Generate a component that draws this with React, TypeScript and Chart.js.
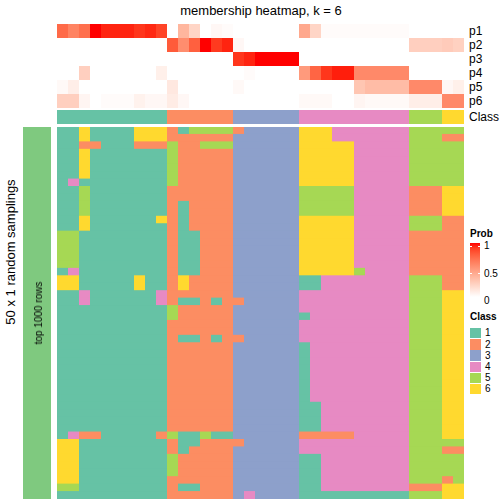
import React, { useEffect, useRef } from "react";
import { Chart, registerables } from "chart.js";

Chart.register(...registerables);

// ---------- data ----------
const CLASS_LABELS = ["1", "2", "3", "4", "5", "6"];
const CLASS_COLORS = ["#66C2A5", "#FC8D62", "#8DA0CB", "#E78AC3", "#A6D854", "#FFD92F"];
const PROB_LABELS = ["p1", "p2", "p3", "p4", "p5", "p6"];
const PROB_TICKS = ["1", "0.5", "0"];
const TITLE = "membership heatmap, k = 6";
const ROW_TITLE = "50 x 1 random samplings";
const SPLIT_LABEL = "top 1000 rows";

const p1 = [0.74, 0.63, 0.72, 1.0, 0.96, 0.96, 0.96, 0.92, 0.95, 0.88, 0, 0.38, 0.22, 0, 0.04, 0.02, 0, 0, 0, 0, 0, 0, 0.45, 0.22, 0.02, 0.02, 0.02, 0.02, 0.02, 0.02, 0.02, 0.02, 0, 0, 0, 0, 0];
const p2 = [0, 0, 0, 0, 0, 0, 0, 0, 0, 0, 0.8, 0.58, 0.78, 1.0, 0.91, 0.96, 0.04, 0, 0, 0, 0, 0, 0, 0, 0, 0, 0, 0, 0, 0, 0, 0, 0.25, 0.25, 0.25, 0.27, 0.24];
const p3 = [0, 0, 0, 0, 0, 0, 0, 0, 0, 0, 0, 0, 0, 0, 0, 0, 0.92, 0.96, 1.0, 1.0, 1.0, 1.0, 0, 0, 0, 0, 0, 0, 0, 0, 0, 0, 0, 0, 0, 0, 0];
const p4 = [0, 0, 0.25, 0, 0, 0, 0, 0, 0, 0.08, 0, 0, 0, 0, 0, 0, 0, 0.02, 0, 0, 0, 0, 0.52, 0.76, 0.92, 0.97, 0.97, 0.6, 0.6, 0.6, 0.6, 0.6, 0, 0, 0, 0, 0];
const p5 = [0.03, 0.09, 0, 0, 0, 0, 0, 0, 0, 0, 0.12, 0, 0, 0, 0, 0, 0.03, 0, 0, 0, 0, 0, 0, 0, 0, 0, 0, 0.3, 0.35, 0.35, 0.35, 0.35, 0.6, 0.6, 0.6, 0.04, 0.08];
const p6 = [0.25, 0.25, 0.05, 0, 0.02, 0.02, 0.02, 0.07, 0.04, 0.04, 0.1, 0.04, 0, 0, 0, 0, 0, 0, 0, 0, 0, 0, 0.03, 0.03, 0.03, 0, 0, 0.05, 0.03, 0.03, 0.03, 0.03, 0.09, 0.09, 0.09, 0.6, 0.6];

const sampleClass = [1, 1, 1, 1, 1, 1, 1, 1, 1, 1, 2, 2, 2, 2, 2, 2, 3, 3, 3, 3, 3, 3, 4, 4, 4, 4, 4, 4, 4, 4, 4, 4, 5, 5, 5, 6, 6];

// 50 random samplings x 37 samples (class per cell)
const membership = [
  "1161111666" + "215555" + "233333" + "6664444444" + "555" + "55",
  "1161111666" + "222222" + "333333" + "6664444444" + "555" + "22",
  "1122111222" + "522555" + "333333" + "6666644444" + "555" + "55",
  "1161111111" + "522222" + "333333" + "6666644444" + "555" + "55",
  "1161111111" + "522222" + "333333" + "6666644444" + "555" + "55",
  "1161111111" + "522222" + "333333" + "6666644444" + "555" + "55",
  "1161111111" + "522222" + "333333" + "6666644444" + "555" + "55",
  "1411111111" + "522222" + "333333" + "6666644444" + "555" + "55",
  "1151111111" + "222222" + "333333" + "5555544444" + "222" + "66",
  "1151111111" + "222222" + "333333" + "5555544444" + "222" + "66",
  "1151111111" + "212222" + "333333" + "5555544444" + "222" + "66",
  "1151111111" + "212222" + "333333" + "5555544444" + "222" + "66",
  "1161111116" + "212222" + "333333" + "6666644444" + "555" + "22",
  "1161111111" + "212222" + "333333" + "6666644444" + "555" + "22",
  "5511111111" + "211222" + "333333" + "6666644444" + "222" + "22",
  "5511111111" + "211222" + "333333" + "6666644444" + "222" + "22",
  "5511111111" + "211222" + "333333" + "6666644444" + "222" + "22",
  "5511111111" + "211222" + "333333" + "6666644444" + "222" + "22",
  "5511111111" + "211222" + "333333" + "6666644444" + "222" + "22",
  "1411111111" + "211222" + "333333" + "6666654444" + "222" + "22",
  "6611111611" + "262222" + "333333" + "1144444444" + "555" + "22",
  "6611111611" + "262222" + "333333" + "1144444444" + "555" + "22",
  "1141111114" + "222222" + "333333" + "4444444444" + "555" + "66",
  "1141111114" + "211212" + "233333" + "4444444444" + "555" + "66",
  "1111111111" + "522222" + "333333" + "4444444444" + "555" + "66",
  "1111111111" + "522222" + "333333" + "1444444444" + "555" + "66",
  "1111111111" + "222222" + "333333" + "4444444444" + "555" + "66",
  "1111111111" + "222222" + "333333" + "4444444444" + "555" + "66",
  "1111111111" + "211212" + "233333" + "4444444444" + "555" + "66",
  "1111111111" + "222222" + "333333" + "1444444444" + "555" + "66",
  "1111111111" + "222222" + "333333" + "1444444444" + "555" + "66",
  "1111111111" + "222222" + "333333" + "1444444444" + "555" + "66",
  "1111111111" + "222222" + "333333" + "1444444444" + "555" + "66",
  "1111111111" + "222222" + "333333" + "1444444444" + "555" + "66",
  "1111111111" + "222222" + "333333" + "1444444444" + "555" + "66",
  "1111111111" + "222222" + "333333" + "1444444444" + "555" + "66",
  "1111111111" + "222222" + "333333" + "1444444444" + "555" + "66",
  "1111111111" + "222222" + "333333" + "1144444444" + "555" + "66",
  "1111111111" + "222222" + "333333" + "1144444444" + "555" + "66",
  "1111111111" + "222222" + "333333" + "1144444444" + "555" + "66",
  "1111111111" + "222222" + "333333" + "1144444444" + "555" + "66",
  "1422111112" + "511511" + "333333" + "2222244444" + "555" + "66",
  "6611111111" + "211222" + "233333" + "4444444444" + "555" + "55",
  "6611111111" + "212222" + "333333" + "4444444444" + "555" + "22",
  "6611111111" + "522222" + "333333" + "1144444444" + "555" + "55",
  "6611111111" + "522222" + "333333" + "1144444444" + "555" + "55",
  "6611111111" + "522222" + "333333" + "1144444444" + "555" + "55",
  "6611111111" + "222222" + "333333" + "1144444444" + "555" + "25",
  "5511111111" + "211222" + "333333" + "1144444444" + "222" + "66",
  "1111111111" + "222222" + "343333" + "1111111111" + "555" + "66",
];

const SPLIT_COLOR = "#7FC97F";

// ---------- colour helpers (white -> red in LAB) ----------
function toLin(c: number) {
  const v = c / 255;
  return v <= 0.04045 ? v / 12.92 : Math.pow((v + 0.055) / 1.055, 2.4);
}
function toSrgb(c: number) {
  const v = Math.min(1, Math.max(0, c));
  const s = v <= 0.0031308 ? 12.92 * v : 1.055 * Math.pow(v, 1 / 2.4) - 0.055;
  return Math.round(s * 255);
}
const XN = 0.95047, YN = 1, ZN = 1.08883;
function f(t: number) { return t > 0.008856 ? Math.cbrt(t) : 7.787 * t + 16 / 116; }
function finv(t: number) { const t3 = t * t * t; return t3 > 0.008856 ? t3 : (t - 16 / 116) / 7.787; }
function rgbToLab(r: number, g: number, b: number) {
  const R = toLin(r), G = toLin(g), B = toLin(b);
  const X = (0.4124 * R + 0.3576 * G + 0.1805 * B) / XN;
  const Y = (0.2126 * R + 0.7152 * G + 0.0722 * B) / YN;
  const Z = (0.0193 * R + 0.1192 * G + 0.9505 * B) / ZN;
  const fx = f(X), fy = f(Y), fz = f(Z);
  return [116 * fy - 16, 500 * (fx - fy), 200 * (fy - fz)];
}
function labToRgb(L: number, a: number, b: number) {
  const fy = (L + 16) / 116, fx = fy + a / 500, fz = fy - b / 200;
  const X = finv(fx) * XN, Y = finv(fy) * YN, Z = finv(fz) * ZN;
  const R = 3.2406 * X - 1.5372 * Y - 0.4986 * Z;
  const G = -0.9689 * X + 1.8758 * Y + 0.0415 * Z;
  const B = 0.0557 * X - 0.204 * Y + 1.057 * Z;
  return `rgb(${toSrgb(R)},${toSrgb(G)},${toSrgb(B)})`;
}
const LAB_W = rgbToLab(255, 255, 255);
const LAB_R = rgbToLab(255, 0, 0);
function probColor(t: number) {
  return labToRgb(
    LAB_W[0] + (LAB_R[0] - LAB_W[0]) * t,
    LAB_W[1] + (LAB_R[1] - LAB_W[1]) * t,
    LAB_W[2] + (LAB_R[2] - LAB_W[2]) * t
  );
}

// ---------- heatmap drawn as stacked horizontal bars ----------
type HeatProps = { colors: string[][]; left: number; top: number; width: number; height: number };

function HeatCanvas({ colors, left, top, width, height }: HeatProps) {
  const ref = useRef<HTMLCanvasElement>(null);
  useEffect(() => {
    const nRows = colors.length;
    const nCols = colors[0].length;
    const rowH = height / nRows;
    // fractional row heights: let each bar overlap half a pixel on each side so no seams appear
    const ratio = Number.isInteger(rowH) ? 1 : 1 + 1 / rowH;
    const datasets = colors[0].map((_, c) => ({
      data: colors.map(() => 1),
      backgroundColor: colors.map((row) => row[c]),
      borderWidth: 0,
      barPercentage: ratio,
      categoryPercentage: 1,
      inflateAmount: 0,
    }));
    const chart = new Chart(ref.current as HTMLCanvasElement, {
      type: "bar",
      data: { labels: colors.map((_, i) => String(i + 1)), datasets },
      options: {
        indexAxis: "y",
        responsive: false,
        maintainAspectRatio: false,
        animation: false,
        events: [],
        layout: { padding: 0 },
        plugins: { legend: { display: false }, tooltip: { enabled: false }, title: { display: false } },
        scales: {
          x: { type: "linear", stacked: true, display: false, min: 0, max: nCols },
          y: { stacked: true, display: false },
        },
      },
    });
    return () => chart.destroy();
  }, []);
  return (
    <canvas
      ref={ref}
      width={width}
      height={height}
      style={{ position: "absolute", left, top, width, height }}
    />
  );
}

const FONT = '"Liberation Sans", Arial, Helvetica, sans-serif';

function Txt({ x, baseline, size, children, bold, align = "left" }: any) {
  const top = baseline - 0.8465 * size;
  const style: React.CSSProperties = {
    position: "absolute",
    top,
    left: x,
    fontFamily: FONT,
    fontSize: size,
    lineHeight: `${size}px`,
    fontWeight: bold ? "bold" : "normal",
    whiteSpace: "nowrap",
    color: "#000",
  };
  if (align === "center") style.transform = "translateX(-50%)";
  return <div style={style}>{children}</div>;
}

function VTxt({ cx, cy, size, children }: any) {
  return (
    <div
      style={{
        position: "absolute",
        left: cx,
        top: cy,
        fontFamily: FONT,
        fontSize: size,
        lineHeight: `${size}px`,
        whiteSpace: "nowrap",
        transform: "translate(-50%, -50%) rotate(-90deg)",
        color: "#000",
      }}
    >
      {children}
    </div>
  );
}

export default function App() {
  const probRows = [p1, p2, p3, p4, p5, p6].map((r) => r.map(probColor));
  const classRow = [sampleClass.map((c) => CLASS_COLORS[c - 1])];
  const mainRows = membership.map((s) => s.split("").map((ch) => CLASS_COLORS[Number(ch) - 1]));
  const splitRow = [[SPLIT_COLOR]];

  const gradStops = Array.from({ length: 11 }, (_, i) => `${probColor(1 - i / 10)} ${i * 10}%`).join(", ");

  const left = 57, width = 407;
  const rowCenters = [31, 45, 59, 73, 87, 101];

  return (
    <div style={{ position: "fixed", left: 0, top: 0, width: 504, height: 504, background: "#fff", overflow: "hidden" }}>
      <Txt x={261} baseline={15} size={13} align="center">{TITLE}</Txt>

      <HeatCanvas colors={probRows} left={left} top={24} width={width} height={84} />
      <HeatCanvas colors={classRow} left={left} top={110} width={width} height={14} />
      <HeatCanvas colors={mainRows} left={left} top={127} width={width} height={372} />
      <HeatCanvas colors={splitRow} left={23} top={127} width={28} height={372} />

      {PROB_LABELS.map((l, i) => (
        <Txt key={l} x={469} baseline={rowCenters[i] + 4.5} size={12}>{l}</Txt>
      ))}
      <Txt x={469} baseline={121.5} size={12}>Class</Txt>

      <VTxt cx={10} cy={252} size={13}>{ROW_TITLE}</VTxt>
      <VTxt cx={38.5} cy={313} size={10}>{SPLIT_LABEL}</VTxt>

      {/* legend: Prob */}
      <Txt x={470} baseline={237} size={10} bold>Prob</Txt>
      <div style={{ position: "absolute", left: 470, top: 243, width: 10, height: 54, background: `linear-gradient(to bottom, ${gradStops})` }} />
      {[246, 273].map((y) => (
        <React.Fragment key={y}>
          <div style={{ position: "absolute", left: 470, top: y, width: 2, height: 1, background: "#fff" }} />
          <div style={{ position: "absolute", left: 478, top: y, width: 2, height: 1, background: "#fff" }} />
        </React.Fragment>
      ))}
      <Txt x={484} baseline={249} size={10}>{PROB_TICKS[0]}</Txt>
      <Txt x={484} baseline={277} size={10}>{PROB_TICKS[1]}</Txt>
      <Txt x={484} baseline={304} size={10}>{PROB_TICKS[2]}</Txt>

      {/* legend: Class */}
      <Txt x={470} baseline={320} size={10} bold>Class</Txt>
      {CLASS_LABELS.map((l, i) => (
        <React.Fragment key={l}>
          <div style={{ position: "absolute", left: 470, top: 328 + i * 11.2, width: 11, height: 10.4, background: CLASS_COLORS[i] }} />
          <Txt x={485} baseline={328 + i * 11.2 + 5.2 + 3.6} size={10}>{l}</Txt>
        </React.Fragment>
      ))}
    </div>
  );
}
